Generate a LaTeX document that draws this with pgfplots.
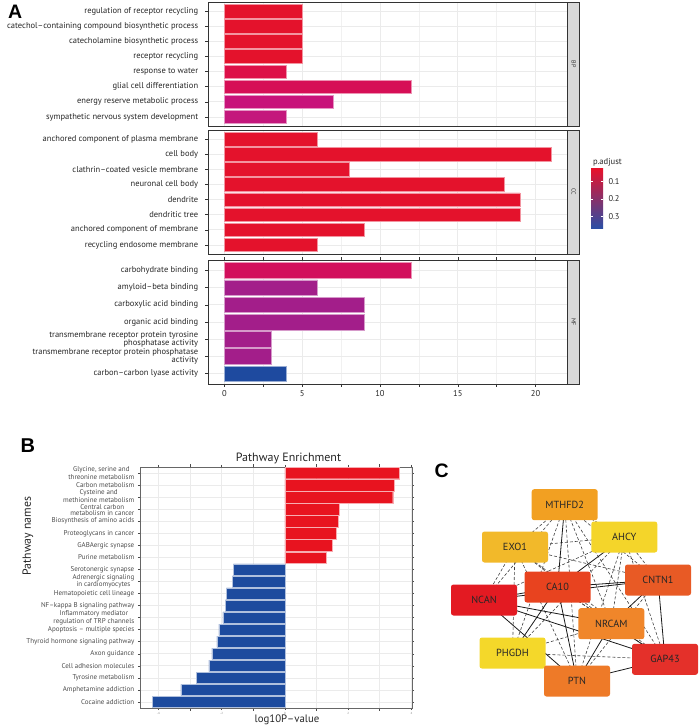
\documentclass[border=0pt]{standalone}
\usepackage{pgfplots}
\pgfplotsset{compat=1.18}
\usepackage{fontspec}
\setmainfont{PT Sans}
\newfontfamily\panelfont{Liberation Sans}

\definecolor{gridc}{HTML}{EBEBEB}
\definecolor{framec}{HTML}{333333}
\definecolor{stripc}{HTML}{D9D9D9}
\definecolor{cRed}{HTML}{E4122C}
\definecolor{cBPa}{HTML}{DD1048}
\definecolor{cBPb}{HTML}{D60F56}
\definecolor{cBPc}{HTML}{C8137A}
\definecolor{cBPd}{HTML}{C4177C}
\definecolor{cMFa}{HTML}{D20F5C}
\definecolor{cPur}{HTML}{A31E8A}
\definecolor{cBlue}{HTML}{1E4A9F}
\definecolor{bRed}{HTML}{E8131F}
\definecolor{bBlue}{HTML}{1D4B9E}
\definecolor{cbTop}{HTML}{E8112B}
\definecolor{cbMid}{HTML}{B0157F}
\definecolor{cbBot}{HTML}{2B4FA6}
% network node colours
\definecolor{nMTHFD}{HTML}{F2A022}
\definecolor{nAHCY}{HTML}{F4D52A}
\definecolor{nEXO}{HTML}{F2B92A}
\definecolor{nCNTN}{HTML}{E85A25}
\definecolor{nCA}{HTML}{E8431F}
\definecolor{nNCAN}{HTML}{E31A22}
\definecolor{nNRCAM}{HTML}{F0862A}
\definecolor{nPHGDH}{HTML}{F4D82A}
\definecolor{nGAP}{HTML}{E4302A}
\definecolor{nPTN}{HTML}{EE7A28}

\pgfplotsset{
  goA/.style={
    scale only axis, width=359.5pt, height=124pt,
    xmin=-1.05, xmax=22.05, ymin=0.4, y dir=reverse,
    xbar, bar width=0.9, bar shift=0pt,
    xtick={0,5,10,15,20}, minor xtick={2.5,7.5,12.5,17.5},
    grid=both,
    major grid style={gridc, line width=0.7pt},
    minor grid style={gridc!70, line width=0.45pt},
    axis line style={framec, line width=0.9pt},
    tick style={framec, line width=0.5pt},
    tick align=outside, major tick length=2.8pt,
    yticklabel style={font=\fontsize{8.5}{8}\selectfont, text=black!85, align=right, xshift=-3.5pt},
    xticklabel style={font=\fontsize{8.5}{8}\selectfont, text=black!85},
    /pgf/number format/assume math mode=true,
  },
  gobar/.style={fill=#1, draw=white!55!#1, line width=0.5pt},
  kbar/.style={fill=#1, draw=white!65!#1, line width=0.4pt},
}
\tikzset{blab/.style={anchor=east, align=center, font=\fontsize{7}{5.9}\selectfont, text=black!70, inner ysep=0pt, xshift=-2.2pt}}

\begin{document}
\begin{tikzpicture}[x=1pt,y=1pt]
\path[use as bounding box] (0,0) rectangle (700,-725);

% ---------- A : BP
\begin{axis}[goA, at={(208pt,-2pt)}, anchor=north west, ymax=8.6,
  ytick={1,...,8}, xticklabels={}, xtick style={draw=none},
  yticklabels={regulation of receptor recycling, catechol--containing compound biosynthetic process, catecholamine biosynthetic process, receptor recycling, response to water, glial cell differentiation, energy reserve metabolic process, sympathetic nervous system development}]
\addplot[gobar=cRed] coordinates {(5,1) (5,2) (5,3) (5,4)};
\addplot[gobar=cBPa] coordinates {(4,5)};
\addplot[gobar=cBPb] coordinates {(12,6)};
\addplot[gobar=cBPc] coordinates {(7,7)};
\addplot[gobar=cBPd] coordinates {(4,8)};
\end{axis}

% ---------- A : CC
\begin{axis}[goA, at={(208pt,-130pt)}, anchor=north west, ymax=8.6,
  ytick={1,...,8}, xticklabels={}, xtick style={draw=none},
  yticklabels={anchored component of plasma membrane, cell body, clathrin--coated vesicle membrane, neuronal cell body, dendrite, dendritic tree, anchored component of membrane, recycling endosome membrane}]
\addplot[gobar=cRed] coordinates {(6,1) (21,2) (8,3) (18,4) (19,5) (19,6) (9,7) (6,8)};
\end{axis}

% ---------- A : MF
\begin{axis}[goA, at={(208pt,-260pt)}, anchor=north west, ymax=7.6,
  ytick={1,...,7},
  yticklabels={carbohydrate binding, amyloid--beta binding, carboxylic acid binding, organic acid binding, {transmembrane receptor protein tyrosine\\phosphatase activity}, {transmembrane receptor protein phosphatase\\activity}, carbon--carbon lyase activity}]
\addplot[gobar=cMFa] coordinates {(12,1)};
\addplot[gobar=cPur] coordinates {(6,2) (9,3) (9,4) (3,5) (3,6)};
\addplot[gobar=cBlue] coordinates {(4,7)};
\end{axis}

% facet strips
\foreach \yt/\yb/\lab in {2/126/BP, 130/254/CC, 260/384/MF}{
  \draw[fill=stripc, draw=framec, line width=0.9pt] (567.7,-\yt) rectangle (579.5,-\yb);
  \node[rotate=-90, font=\fontsize{6}{6}\selectfont, text=black!80] at (573.6,{-(\yt+\yb)/2}) {\lab};
}

% colour bar legend
\node[anchor=base west, font=\fontsize{8.6}{8.6}\selectfont, text=black!85] at (589.5,-164.5) {p.adjust};
\shade[top color=cbTop, middle color=cbMid, bottom color=cbBot] (591,-168.3) rectangle (603,-228.3);
\foreach \yy/\lab in {181.7/0.1, 199/0.2, 216.3/0.3}{
  \draw[white, line width=0.5pt] (591,-\yy) -- (593.4,-\yy) (600.6,-\yy) -- (603,-\yy);
  \node[anchor=west, font=\fontsize{8.4}{8.4}\selectfont, text=black!85] at (605,-\yy) {\lab};
}

% ---------- B
\begin{axis}[at={(140pt,-708pt)}, anchor=south west, scale only axis, width=272pt, height=241pt,
  xmin=-4.58, xmax=4.02, ymin=0.5, ymax=20.5, y dir=reverse, clip=false,
  xbar, bar width=0.94, bar shift=0pt,
  xtick={-4,-2,0,2,4}, minor xtick={-3,-1,1,3},
  ytick={1,...,20},
  grid=both,
  major grid style={gridc, line width=0.7pt},
  minor grid style={gridc, line width=0.7pt},
  axis line style={black!60, line width=0.9pt},
  tick style={black!70, line width=0.5pt},
  tick align=outside, major tick length=2.2pt,
  yticklabel style={font=\fontsize{7}{5.9}\selectfont, text=black!70, align=center, inner ysep=0pt},
  xticklabel style={font=\fontsize{3}{3}\selectfont, text=black!50, yshift=1pt},
  /pgf/number format/assume math mode=true,
  yticklabels={{Glycine, serine and\\threonine metabolism}, Carbon metabolism, {}, {}, Biosynthesis of amino acids, Proteoglycans in cancer, GABAergic synapse, Purine metabolism, Serotonergic synapse, {Adrenergic signaling\\in cardiomyocytes}, Hematopoietic cell lineage, NF--kappa B signaling pathway, {Inflammatory mediator\\regulation of TRP channels}, Apoptosis -- multiple species, Thyroid hormone signaling pathway, Axon guidance, Cell adhesion molecules, Tyrosine metabolism, Amphetamine addiction, Cocaine addiction}]
\addplot[kbar=bRed] coordinates {(3.63,1) (3.45,2) (3.41,3) (1.71,4) (1.68,5) (1.61,6) (1.49,7) (1.30,8)};
\addplot[kbar=bBlue] coordinates {(-1.63,9) (-1.66,10) (-1.85,11) (-1.89,12) (-1.96,13) (-2.09,14) (-2.15,15) (-2.31,16) (-2.40,17) (-2.80,18) (-3.29,19) (-4.19,20)};
\node[blab, yshift=0.9pt] at (axis cs:-4.58,3) {Cysteine and\\methionine metabolism};
\node[blab, yshift=-0.9pt] at (axis cs:-4.58,4) {Central carbon\\metabolism in cancer};
\end{axis}
\node[font=\fontsize{12}{12}\selectfont, text=black!85] at (288.5,-458) {Pathway Enrichment};
\node[rotate=90, font=\fontsize{11.8}{11.8}\selectfont, text=black!85] at (28,-536) {Pathway names};
\node[font=\fontsize{10.8}{10.8}\selectfont, text=black!85] at (287,-719.5) {log10P--value};

% ---------- C network
\begin{axis}[at={(430pt,-460pt)}, anchor=north west, scale only axis, width=270pt, height=260pt,
  xmin=430, xmax=700, ymin=460, ymax=720, y dir=reverse, hide axis, clip=false]
\addplot[draw=none, forget plot] coordinates {(430,460) (700,720)};
\coordinate (M) at (axis cs:564.7,504.7);
\coordinate (A) at (axis cs:624.3,537);
\coordinate (E) at (axis cs:515,547);
\coordinate (CN) at (axis cs:658,580);
\coordinate (CA) at (axis cs:557.5,587);
\coordinate (N) at (axis cs:484,600);
\coordinate (NR) at (axis cs:611.3,623.7);
\coordinate (PH) at (axis cs:512.5,653);
\coordinate (G) at (axis cs:665,659.3);
\coordinate (P) at (axis cs:577,681);
\end{axis}
\foreach \a/\b in {M/E, M/A, M/N, M/NR, M/P, M/PH, M/G, M/CN, E/A, E/CN, E/PH, E/N, E/P, E/NR, A/CN, A/NR, A/G, A/P, A/N, A/PH, CA/G, CA/NR, PH/NR, PH/G, CN/P, E/G}
  \draw[black!75, line width=0.6pt, dash pattern=on 3pt off 2pt] (\a) -- (\b);
\foreach \a/\b in {M/CA, A/CA, CA/CN, N/CN, N/CA, N/NR, N/G, N/P, CA/PH, CA/P, NR/P, CN/NR, CN/G, P/G, PH/P, NR/G}
  \draw[black!90, line width=0.8pt] (\a) -- (\b);
\tikzset{gene/.style={rectangle, rounded corners=2.5pt, minimum width=66pt, minimum height=31pt, inner sep=0pt, font=\fontsize{10.3}{10.3}\selectfont, text=black!85}}
\node[gene, fill=nMTHFD] at (M) {MTHFD2};
\node[gene, fill=nAHCY] at (A) {AHCY};
\node[gene, fill=nEXO] at (E) {EXO1};
\node[gene, fill=nCNTN] at (CN) {CNTN1};
\node[gene, fill=nCA] at (CA) {CA10};
\node[gene, fill=nNCAN] at (N) {NCAN};
\node[gene, fill=nNRCAM] at (NR) {NRCAM};
\node[gene, fill=nPHGDH] at (PH) {PHGDH};
\node[gene, fill=nGAP] at (G) {GAP43};
\node[gene, fill=nPTN] at (P) {PTN};

% panel letters
\node[anchor=base west, font=\panelfont\bfseries\fontsize{19.5}{19.5}\selectfont] at (4.5,-19) {A};
\node[anchor=base west, font=\panelfont\bfseries\fontsize{20}{20}\selectfont] at (17,-452) {B};
\node[anchor=base west, font=\panelfont\bfseries\fontsize{19.5}{19.5}\selectfont] at (431,-477) {C};
\end{tikzpicture}
\end{document}
